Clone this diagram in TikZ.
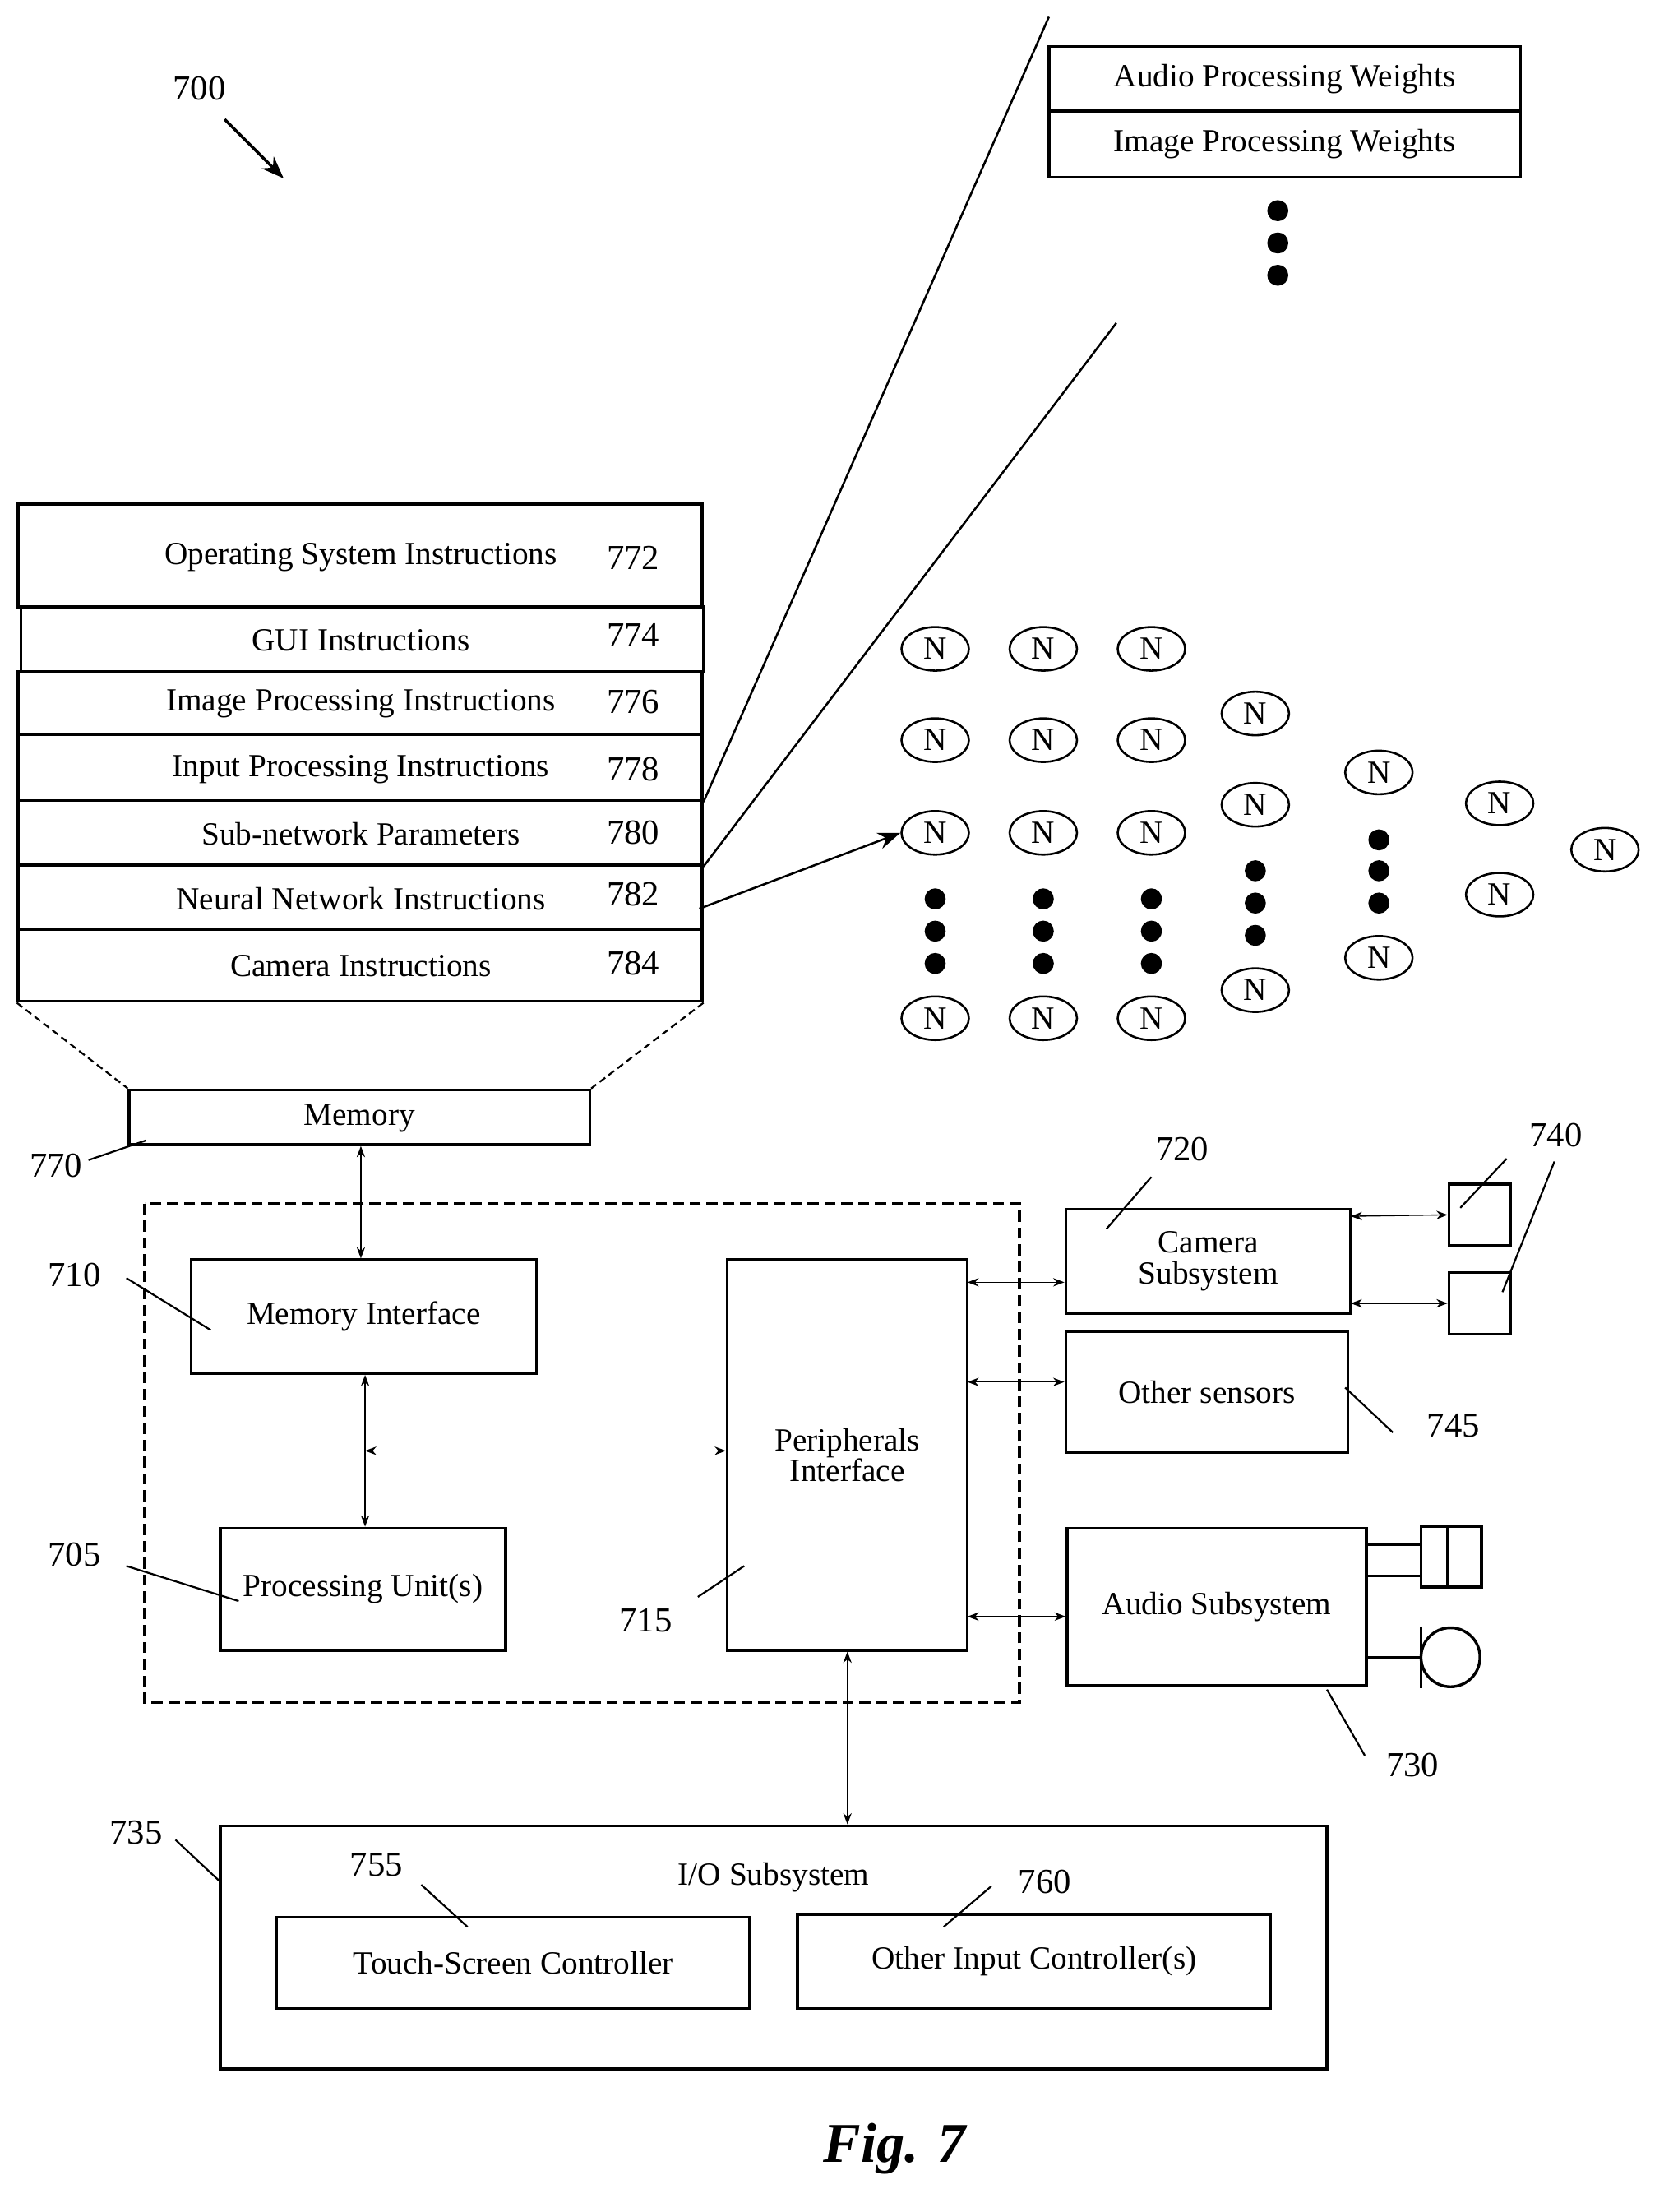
\documentclass[tikz,border=0pt]{standalone}
\usepackage{fontspec}
\setmainfont{Liberation Serif}
\usetikzlibrary{shapes.geometric, arrows.meta}
\begin{document}
\begin{tikzpicture}[x=1pt,y=-1pt]
\tikzstyle{box} = [draw, line width=2pt, inner sep=0pt, font=\fontsize{23}{25}\selectfont, align=center];
\tikzstyle{lbl} = [font=\fontsize{25}{27}\selectfont];
\tikzstyle{lead} = [line width=1.3pt];
\tikzstyle{arrow} = [<->, >={Stealth[length=8pt,width=6pt]}, line width=0.8pt];
\tikzstyle{neuron} = [draw, ellipse, line width=1.5pt, minimum width=48pt, minimum height=31pt, inner sep=0pt, font=\fontsize{23}{25}\selectfont];
\tikzstyle{dot} = [fill, circle, minimum size=15pt, inner sep=0pt];
\useasboundingbox (0,0) rectangle (1185,1575);

% label 700
\node [lbl] (l700) at (142,63) {700};
\draw [->, >={Stealth[length=16pt,width=12pt]}, line width=2pt] (160,85) -- (202,127);

% weights
\node [box, minimum width=336pt, minimum height=46pt] (audw) at (915,56) {Audio Processing Weights};
\node [box, minimum width=336pt, minimum height=47pt] (imgw) at (915,102.5) {Image Processing Weights};
\foreach \y in {150,173,196} \node [dot] at (910,\y) {};

% memory stack
\node [box, minimum width=487pt, minimum height=73pt] (m772) at (256.5,395.5) {};
\node [box, minimum width=486pt, minimum height=46pt] (m774) at (258,455) {};
\node [box, minimum width=487pt, minimum height=45pt] (m776) at (256.5,500.5) {};
\node [box, minimum width=487pt, minimum height=47pt] (m778) at (256.5,546.5) {};
\node [box, minimum width=487pt, minimum height=46pt] (m780) at (256.5,593) {};
\node [box, minimum width=487pt, minimum height=46pt] (m782) at (256.5,639) {};
\node [box, minimum width=487pt, minimum height=51pt] (m784) at (256.5,687.5) {};
\foreach \n/\t/\y in {772/Operating System Instructions/397, 774/GUI Instructions/456, 776/Image Processing Instructions/501, 778/Input Processing Instructions/548, 780/Sub-network Parameters/594, 782/Neural Network Instructions/640, 784/Camera Instructions/688}
  \node [font=\fontsize{23}{25}\selectfont] (t\n) at (257,\y) {\t};
\foreach \n/\y in {772/397, 774/452, 776/500, 778/548, 780/593, 782/637, 784/686}
  \node [lbl] (n\n) at (451,\y) {\n};

\coordinate (w1) at (747,12);
\coordinate (w2) at (795,230);
\draw [line width=1.5pt] (m778.south east) -- (w1);
\draw [line width=1.5pt] (m780.south east) -- (w2);

% neurons
\foreach \x [count=\c] in {666,743,820} {
  \foreach \y [count=\r] in {462,527,593,725} \node [neuron] (n\c\r) at (\x,\y) {N};
  \foreach \y in {640,663,686} \node [dot] at (\x,\y) {};
}
\foreach \y [count=\r] in {508,573,705} \node [neuron] (n4\r) at (894,\y) {N};
\foreach \y in {620,643,666} \node [dot] at (894,\y) {};
\foreach \y [count=\r] in {550,682} \node [neuron] (n5\r) at (982,\y) {N};
\foreach \y in {598,620,643} \node [dot] at (982,\y) {};
\node [neuron] (n61) at (1068,572) {N};
\node [neuron] (n62) at (1068,637) {N};
\node [neuron] (n71) at (1143,605) {N};
\coordinate (s782) at (498,647);
\draw [->, >={Stealth[length=16pt,width=12pt]}, line width=1.5pt] (s782) -- (n13.west);

% memory
\node [box, minimum width=328pt, minimum height=39pt] (mem) at (256,795.5) {};
\node [font=\fontsize{23}{25}\selectfont] at (256,796) {Memory};
\draw [dash pattern=on 5pt off 3pt, line width=1.3pt] (m784.south west) -- (mem.north west);
\draw [dash pattern=on 5pt off 3pt, line width=1.3pt] (m784.south east) -- (mem.north east);
\node [lbl] (l770) at (40,830) {770};
\draw [lead] (63,826) -- (104,812);

% processor
\draw [dash pattern=on 8pt off 4pt, line width=2pt] (103,857) rectangle (726,1212);
\node [box, minimum width=246pt, minimum height=81pt] (memif) at (259,937.5) {Memory Interface};
\node [box, minimum width=203pt, minimum height=87pt] (pu) at (258.5,1131.5) {Processing Unit(s)};
\node [box, minimum width=171pt, minimum height=278pt, text width=150pt] (pi) at (603.5,1036) {Peripherals\\[-3pt]Interface};
\node [lbl] (l710) at (53,908) {710};
\draw [lead] (90,910) -- (150,947);
\node [lbl] (l705) at (53,1107) {705};
\draw [lead] (90,1115) -- (170,1140);
\node [lbl] (l715) at (460,1154) {715};
\draw [lead] (497,1137) -- (530,1115);
\draw [arrow] (mem.south -| 257,0) -- (memif.north -| 257,0);
\draw [arrow] (memif.south -| 260,0) -- (pu.north -| 260,0);
\coordinate (bus) at (260,1033);
\draw [arrow] (bus) -- (bus -| pi.west);

% peripherals
\node [box, minimum width=203pt, minimum height=74pt, text width=190pt] (cam) at (860.5,898) {Camera\\[-3pt]Subsystem};
\node [box, minimum width=201pt, minimum height=86pt] (sens) at (859.5,991) {Other sensors};
\node [box, minimum width=213pt, minimum height=112pt] (aud) at (866.5,1144) {Audio Subsystem};
\node [box, minimum width=44pt, minimum height=44pt] (c1) at (1054,865) {};
\node [box, minimum width=44pt, minimum height=44pt] (c2) at (1054,928) {};
\draw [arrow] (962,866) -- (c1.west);
\draw [arrow] (962,928) -- (c2.west);
\draw [arrow] (689,913) -- (cam.west |- 0,913);
\draw [arrow] (689,984) -- (sens.west |- 0,984);
\draw [arrow] (689,1151) -- (aud.west |- 0,1151);
\node [lbl] (l720) at (842,818) {720};
\draw [lead] (788,875) -- (820,838);
\node [lbl] (l740) at (1108,808) {740};
\draw [lead] (1040,860) -- (1073,825);
\draw [lead] (1070,920) -- (1107,827);
\node [lbl] (l745) at (1035,1015) {745};
\draw [lead] (958,988) -- (992,1020);
\node [lbl] (l730) at (1006,1257) {730};
\draw [lead] (945,1203) -- (972,1250);
% speaker and microphone
\draw [line width=2pt] (973,1100) -- (1012,1100) (973,1122) -- (1012,1122);
\draw [line width=2pt] (1012,1087) rectangle (1055,1130) (1031,1087) -- (1031,1130);
\draw [line width=2pt] (973,1180) -- (1012,1180) (1012,1158) -- (1012,1202);
\draw [line width=2pt] (1033,1180) circle (21);

% I/O
\node [box, minimum width=788pt, minimum height=173pt] (io) at (551,1386.5) {};
\node [font=\fontsize{23}{25}\selectfont] at (551,1337) {I/O Subsystem};
\draw [arrow] (pi.south) -- (io.north -| pi.south);
\node [box, minimum width=337pt, minimum height=65pt] (tsc) at (365.5,1397.5) {Touch-Screen Controller};
\node [box, minimum width=337pt, minimum height=67pt] (oic) at (736.5,1396.5) {Other Input Controller(s)};
\node [lbl] (l735) at (97,1305) {735};
\draw [lead] (125,1310) -- (157,1340);
\node [lbl] (l755) at (268,1328) {755};
\draw [lead] (300,1342) -- (333,1372);
\node [lbl] (l760) at (744,1340) {760};
\draw [lead] (706,1343) -- (672,1372);

\node [font=\fontsize{40}{44}\selectfont\bfseries\itshape] (fig) at (637,1530) {Fig. 7};
\end{tikzpicture}
\end{document}
